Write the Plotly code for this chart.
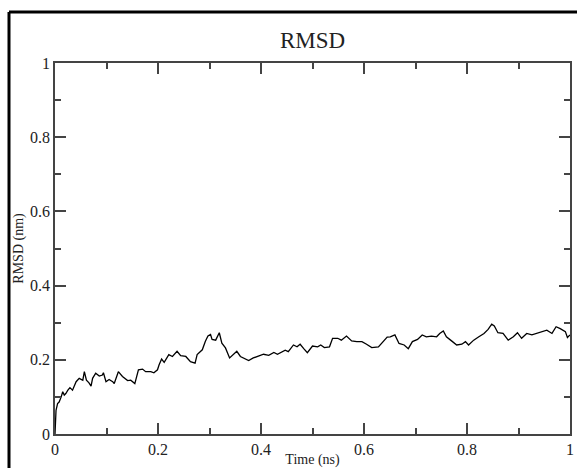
import plotly.graph_objects as go

time_ns = [0.0, 0.002, 0.005, 0.008, 0.012, 0.015, 0.018, 0.021, 0.025, 0.029, 0.034, 0.041, 0.047,
           0.054, 0.057, 0.061, 0.066, 0.07, 0.073, 0.079, 0.086, 0.092, 0.094, 0.099, 0.105, 0.112,
           0.115, 0.123, 0.131, 0.141, 0.147, 0.155, 0.162, 0.17, 0.176, 0.186, 0.192, 0.199, 0.202,
           0.207, 0.212, 0.221, 0.228, 0.237, 0.244, 0.254, 0.263, 0.272, 0.276, 0.286, 0.292, 0.297,
           0.302, 0.305, 0.312, 0.315, 0.319, 0.324, 0.331, 0.339, 0.347, 0.353, 0.36, 0.366, 0.376,
           0.385, 0.395, 0.405, 0.415, 0.425, 0.432, 0.437, 0.447, 0.453, 0.463, 0.47, 0.476, 0.483,
           0.49, 0.5, 0.51, 0.516, 0.523, 0.533, 0.539, 0.549, 0.556, 0.566, 0.576, 0.586, 0.596,
           0.605, 0.615, 0.628, 0.638, 0.645, 0.651, 0.66, 0.668, 0.678, 0.686, 0.694, 0.704, 0.713,
           0.721, 0.731, 0.741, 0.747, 0.754, 0.76, 0.77, 0.78, 0.79, 0.797, 0.803, 0.813, 0.823,
           0.833, 0.841, 0.848, 0.853, 0.86, 0.87, 0.88, 0.89, 0.898, 0.906, 0.916, 0.926, 0.936,
           0.945, 0.955, 0.965, 0.973, 0.981, 0.991, 0.995, 1.0]
rmsd_nm = [0.0, 0.064, 0.082, 0.086, 0.1, 0.114, 0.105, 0.109, 0.118, 0.125, 0.118, 0.141, 0.15,
           0.145, 0.168, 0.145, 0.138, 0.129, 0.15, 0.164, 0.156, 0.159, 0.165, 0.141, 0.147, 0.141,
           0.136, 0.168, 0.155, 0.144, 0.145, 0.136, 0.173, 0.175, 0.168, 0.168, 0.165, 0.173, 0.186,
           0.202, 0.193, 0.214, 0.209, 0.223, 0.211, 0.209, 0.195, 0.191, 0.214, 0.227, 0.25, 0.264,
           0.268, 0.255, 0.253, 0.264, 0.273, 0.245, 0.232, 0.205, 0.214, 0.223, 0.209, 0.205, 0.198,
           0.205, 0.21, 0.215, 0.212, 0.22, 0.215, 0.219, 0.226, 0.222, 0.24, 0.235, 0.242, 0.23,
           0.219, 0.237, 0.235, 0.24, 0.233, 0.235, 0.258, 0.258, 0.253, 0.264, 0.251, 0.249, 0.249,
           0.242, 0.233, 0.235, 0.249, 0.261, 0.262, 0.267, 0.244, 0.24, 0.23, 0.249, 0.255, 0.267,
           0.262, 0.264, 0.262, 0.271, 0.278, 0.262, 0.251, 0.24, 0.242, 0.249, 0.24, 0.253, 0.262,
           0.271, 0.282, 0.296, 0.291, 0.273, 0.271, 0.253, 0.262, 0.273, 0.258, 0.271, 0.267, 0.271,
           0.276, 0.28, 0.271, 0.289, 0.284, 0.276, 0.26, 0.267]

title_text = "RMSD"
x_title = "Time (ns)"
y_title = "RMSD (nm)"
tick_vals = [0, 0.2, 0.4, 0.6, 0.8, 1]
tick_text = ["0", "0.2", "0.4", "0.6", "0.8", "1"]

W, H = 577, 468
L, R, T, B = 55, 570, 63, 434

fig = go.Figure()
fig.add_trace(go.Scatter(x=time_ns, y=rmsd_nm, mode="lines",
                         line=dict(color="black", width=1.3), showlegend=False))

font_family = "Liberation Serif"
axis_common = dict(
    showgrid=False, zeroline=False, showline=True, linecolor="#444", linewidth=1.5,
    mirror="ticks", ticks="inside", ticklen=11, tickwidth=1.5, tickcolor="#444",
    tickfont=dict(family=font_family, size=16, color="#222"),
    minor=dict(ticks="inside", ticklen=6, tickwidth=1.5, tickcolor="#444", dtick=0.1),
    range=[0, 1], tickmode="array", tickvals=tick_vals, ticktext=tick_text,
    automargin=False,
)
fig.update_xaxes(**axis_common, ticklabelstandoff=0, title=dict(text=x_title, standoff=0,
                 font=dict(family=font_family, size=14, color="#222")))
fig.update_yaxes(**axis_common, title=dict(text=y_title, standoff=3,
                 font=dict(family=font_family, size=14, color="#222")))

def px(x):
    return (x - L) / (R - L)

def py(y):
    return (B - y) / (B - T)

fig.add_shape(type="line", xref="paper", yref="paper", x0=px(9), x1=px(590), y0=py(12), y1=py(12),
              line=dict(color="black", width=3))
fig.add_shape(type="line", xref="paper", yref="paper", x0=px(9), x1=px(9), y0=py(12), y1=py(480),
              line=dict(color="black", width=3))

fig.update_layout(
    width=W, height=H,
    margin=dict(l=L, r=W - R, t=T, b=H - B),
    paper_bgcolor="white", plot_bgcolor="white",
    title=dict(text=title_text, x=312.5 / W, xanchor="center",
               y=1 - 40 / H, yanchor="middle",
               font=dict(family=font_family, size=23, color="#222")),
)

fig.write_html("out.html", config={"displayModeBar": False},
               post_script="document.body.style.margin='0';document.body.style.overflow='hidden';")
